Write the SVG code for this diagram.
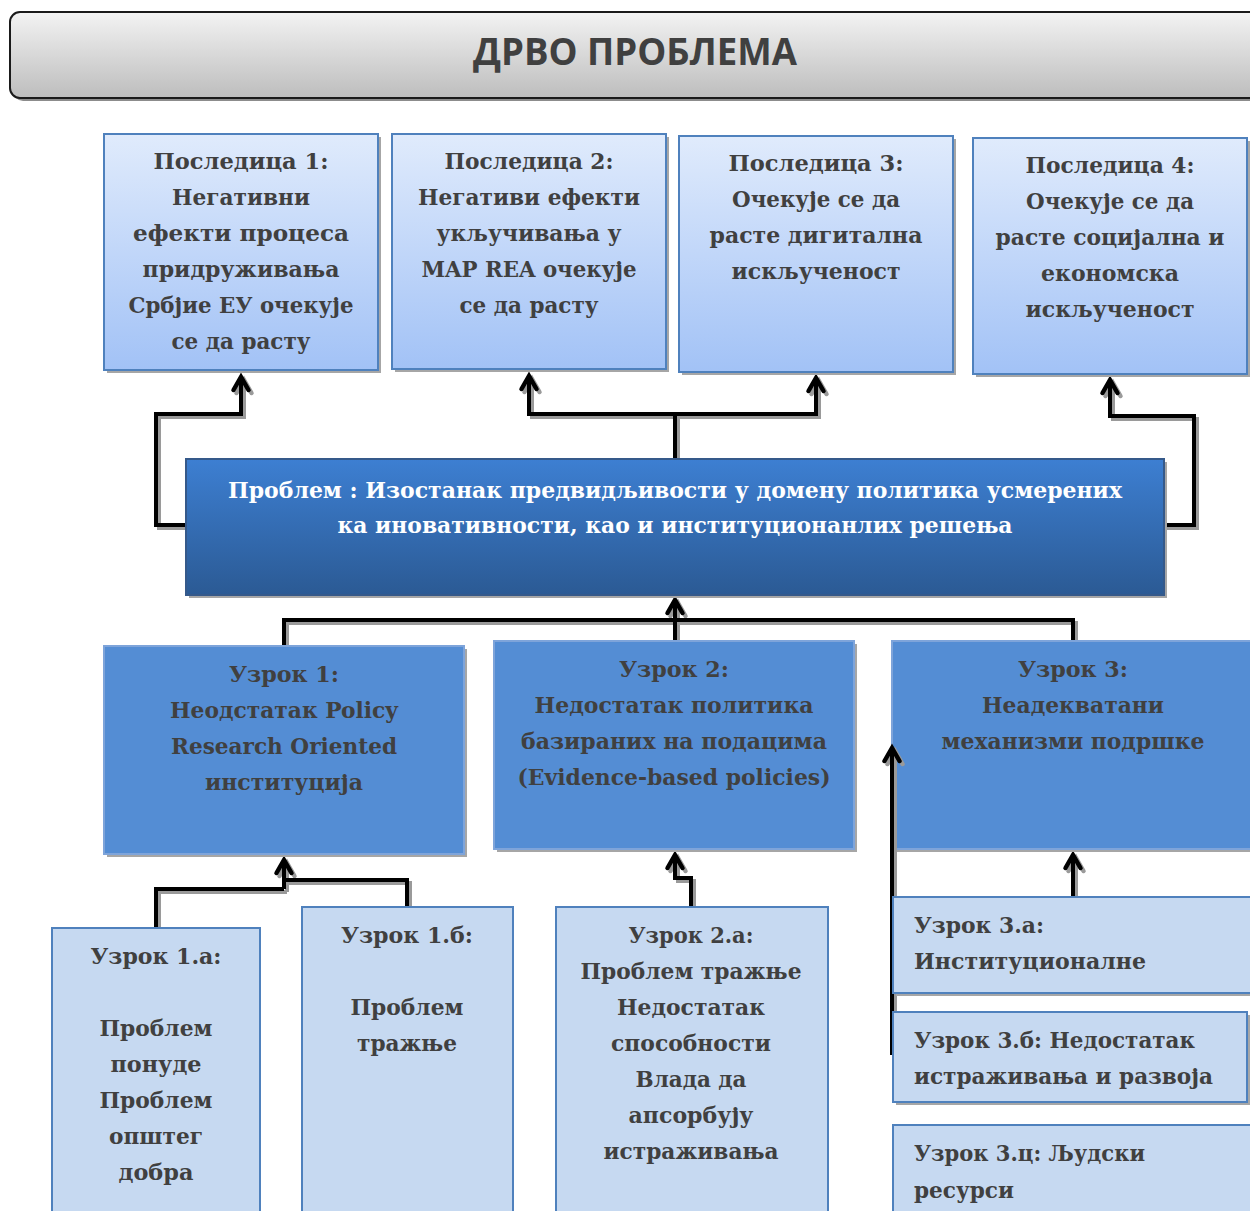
<svg xmlns="http://www.w3.org/2000/svg" width="1250" height="1211" viewBox="0 0 1250 1211">
<defs>
<linearGradient id="gTitle" x1="0" y1="0" x2="0" y2="1"><stop offset="0" stop-color="#f3f3f3"/><stop offset="1" stop-color="#bdbdbd"/></linearGradient>
<linearGradient id="gTop" x1="0" y1="0" x2="0" y2="1"><stop offset="0" stop-color="#e0ebfc"/><stop offset="1" stop-color="#a2c2f6"/></linearGradient>
<linearGradient id="gProb" x1="0" y1="0" x2="0" y2="1"><stop offset="0" stop-color="#3d7fd2"/><stop offset="1" stop-color="#2b5a94"/></linearGradient>
<marker id="arr" markerUnits="userSpaceOnUse" markerWidth="30" markerHeight="30" refX="0" refY="0" viewBox="-15 -15 30 30" orient="auto" overflow="visible"><path d="M-13,-7.5 L0,0 L-13,7.5" fill="none" stroke="#000" stroke-width="4.5" stroke-linecap="round" stroke-linejoin="miter"/></marker>
<marker id="arrS" markerUnits="userSpaceOnUse" markerWidth="30" markerHeight="30" refX="0" refY="0" viewBox="-15 -15 30 30" orient="auto" overflow="visible"><path d="M-13,-7.5 L0,0 L-13,7.5" fill="none" stroke="#9a9a9a" stroke-width="4.5" stroke-linecap="round"/></marker>
</defs>
<style>
.t{font-family:"DejaVu Serif","Liberation Serif",serif;font-weight:bold;font-size:23px;fill:#404040;text-anchor:middle}
.l{text-anchor:start}
.w{fill:#ffffff}
.top{fill:url(#gTop);stroke:#4f81bd;stroke-width:2}
.cause{fill:#548dd4;stroke:#7ea4da;stroke-width:2}
.sub{fill:#c6d9f1;stroke:#4f81bd;stroke-width:2}
.sh{fill:#a6a6a6}
.c{fill:none;stroke:#000;stroke-width:4}
.cs{fill:none;stroke:#9a9a9a;stroke-width:4}
</style>
<rect width="1250" height="1211" fill="#ffffff"/>

<g id="title">
<rect x="13" y="15" width="1260" height="86" rx="10" fill="#8c8c8c"/>
<rect x="10" y="12" width="1260" height="86" rx="10" fill="url(#gTitle)" stroke="#1a1a1a" stroke-width="2"/>
<text x="635" y="65" textLength="324" lengthAdjust="spacingAndGlyphs" style="font-family:'Open Sans','Liberation Sans',sans-serif;font-weight:bold;font-size:38px;fill:#404040;text-anchor:middle">ДРВО ПРОБЛЕМА</text>
</g>

<g id="connectors">
<g transform="translate(3,3)">
<path class="cs" d="M186,525 H156 V414 H241 V377" marker-end="url(#arrS)"/>
<path class="cs" d="M675,459 V414 H529 V376" marker-end="url(#arrS)"/>
<path class="cs" d="M675,414 H816 V378" marker-end="url(#arrS)"/>
<path class="cs" d="M1164,525 H1194 V416 H1110 V380" marker-end="url(#arrS)"/>
<path class="cs" d="M284,646 V620 H1073 V641"/>
<path class="cs" d="M675,641 V600" marker-end="url(#arrS)"/>
<path class="cs" d="M156,928 V889 H284"/>
<path class="cs" d="M407,907 V880 H284"/>
<path class="cs" d="M284,889 V860" marker-end="url(#arrS)"/>
<path class="cs" d="M691,907 V878 H675 V855" marker-end="url(#arrS)"/>
<path class="cs" d="M1073,897 V855" marker-end="url(#arrS)"/>
</g>
<path class="c" d="M186,525 H156 V414 H241 V377" marker-end="url(#arr)"/>
<path class="c" d="M675,459 V414 H529 V376" marker-end="url(#arr)"/>
<path class="c" d="M675,414 H816 V378" marker-end="url(#arr)"/>
<path class="c" d="M1164,525 H1194 V416 H1110 V380" marker-end="url(#arr)"/>
<path class="c" d="M284,646 V620 H1073 V641"/>
<path class="c" d="M675,641 V600" marker-end="url(#arr)"/>
<path class="c" d="M156,928 V889 H284"/>
<path class="c" d="M407,907 V880 H284"/>
<path class="c" d="M284,889 V860" marker-end="url(#arr)"/>
<path class="c" d="M691,907 V878 H675 V855" marker-end="url(#arr)"/>
<path class="c" d="M1073,897 V855" marker-end="url(#arr)"/>
</g>

<g id="cons1">
<rect class="sh" x="107" y="137" width="274" height="236"/>
<rect class="top" x="104" y="134" width="274" height="236"/>
<text class="t" x="241" y="169" textLength="175" lengthAdjust="spacingAndGlyphs">Последица  1:</text>
<text class="t" x="241" y="205" textLength="138" lengthAdjust="spacingAndGlyphs">Негативни</text>
<text class="t" x="241" y="241" textLength="216" lengthAdjust="spacingAndGlyphs">ефекти   процеса</text>
<text class="t" x="241" y="277" textLength="197" lengthAdjust="spacingAndGlyphs">придруживања</text>
<text class="t" x="241" y="313" textLength="225" lengthAdjust="spacingAndGlyphs">Србјие ЕУ очекује</text>
<text class="t" x="241" y="349" textLength="139" lengthAdjust="spacingAndGlyphs">се да расту</text>
</g>
<g id="cons2">
<rect class="sh" x="395" y="137" width="274" height="235"/>
<rect class="top" x="392" y="134" width="274" height="235"/>
<text class="t" x="529" y="169" textLength="169" lengthAdjust="spacingAndGlyphs">Последица 2:</text>
<text class="t" x="529" y="205" textLength="222" lengthAdjust="spacingAndGlyphs">Негативи ефекти</text>
<text class="t" x="529" y="241" textLength="185" lengthAdjust="spacingAndGlyphs">укључивања у</text>
<text class="t" x="529" y="277" textLength="215" lengthAdjust="spacingAndGlyphs">MAP REA очекује</text>
<text class="t" x="529" y="313" textLength="139" lengthAdjust="spacingAndGlyphs">се да расту</text>
</g>
<g id="cons3">
<rect class="sh" x="682" y="139" width="274" height="236"/>
<rect class="top" x="679" y="136" width="274" height="236"/>
<text class="t" x="816" y="171" textLength="175" lengthAdjust="spacingAndGlyphs">Последица  3:</text>
<text class="t" x="816" y="207" textLength="168" lengthAdjust="spacingAndGlyphs">Очекује се да</text>
<text class="t" x="816" y="243" textLength="213" lengthAdjust="spacingAndGlyphs">расте дигитална</text>
<text class="t" x="816" y="279" textLength="169" lengthAdjust="spacingAndGlyphs">искљученост</text>
</g>
<g id="cons4">
<rect class="sh" x="976" y="141" width="274" height="236"/>
<rect class="top" x="973" y="138" width="274" height="236"/>
<text class="t" x="1110" y="173" textLength="169" lengthAdjust="spacingAndGlyphs">Последица 4:</text>
<text class="t" x="1110" y="209" textLength="168" lengthAdjust="spacingAndGlyphs">Очекује се да</text>
<text class="t" x="1110" y="245" textLength="229" lengthAdjust="spacingAndGlyphs">расте социјална и</text>
<text class="t" x="1110" y="281" textLength="138" lengthAdjust="spacingAndGlyphs">економска</text>
<text class="t" x="1110" y="317" textLength="169" lengthAdjust="spacingAndGlyphs">искљученост</text>
</g>

<g id="problem">
<rect class="sh" x="189" y="462" width="978" height="136"/>
<rect x="186" y="459" width="978" height="136" fill="url(#gProb)" stroke="#35598a" stroke-width="2"/>
<text class="t w" x="675" y="498" textLength="894" lengthAdjust="spacingAndGlyphs">Проблем :  Изостанак предвидљивости у домену политика усмерених</text>
<text class="t w" x="675" y="533" textLength="675" lengthAdjust="spacingAndGlyphs">ка иновативности, као и институционанлих решења</text>
</g>

<g id="cause1">
<rect class="sh" x="107" y="649" width="360" height="208"/>
<rect class="cause" x="104" y="646" width="360" height="208"/>
<text class="t" x="284" y="682" textLength="110" lengthAdjust="spacingAndGlyphs">Узрок  1:</text>
<text class="t" x="284" y="718" textLength="228" lengthAdjust="spacingAndGlyphs">Неодстатак Policy</text>
<text class="t" x="284" y="754" textLength="226" lengthAdjust="spacingAndGlyphs">Research Oriented</text>
<text class="t" x="284" y="790" textLength="158" lengthAdjust="spacingAndGlyphs">институција</text>
</g>
<g id="cause2">
<rect class="sh" x="497" y="644" width="360" height="208"/>
<rect class="cause" x="494" y="641" width="360" height="208"/>
<text class="t" x="674" y="677" textLength="110" lengthAdjust="spacingAndGlyphs">Узрок  2:</text>
<text class="t" x="674" y="713" textLength="279" lengthAdjust="spacingAndGlyphs">Недостатак политика</text>
<text class="t" x="674" y="749" textLength="306" lengthAdjust="spacingAndGlyphs">базираних на подацима</text>
<text class="t" x="674" y="785" textLength="313" lengthAdjust="spacingAndGlyphs">(Evidence-based policies)</text>
</g>
<g id="cause3">
<rect class="sh" x="895" y="644" width="360" height="208"/>
<rect class="cause" x="892" y="641" width="362" height="208"/>
<text class="t" x="1073" y="677" textLength="110" lengthAdjust="spacingAndGlyphs">Узрок  3:</text>
<text class="t" x="1073" y="713" textLength="182" lengthAdjust="spacingAndGlyphs">Неадекватани</text>
<text class="t" x="1073" y="749" textLength="263" lengthAdjust="spacingAndGlyphs">механизми подршке</text>
</g>

<g id="connector-3b">
<path class="cs" d="M895,1058 V751" marker-end="url(#arrS)"/>
<path class="c" d="M892,1055 V748" marker-end="url(#arr)"/>
</g>

<g id="sub1a">
<rect class="sub" x="52" y="928" width="208" height="290"/>
<text class="t" x="156" y="964" textLength="131" lengthAdjust="spacingAndGlyphs">Узрок  1.а:</text>
<text class="t" x="156" y="1036" textLength="113" lengthAdjust="spacingAndGlyphs">Проблем</text>
<text class="t" x="156" y="1072" textLength="91" lengthAdjust="spacingAndGlyphs">понуде</text>
<text class="t" x="156" y="1108" textLength="113" lengthAdjust="spacingAndGlyphs">Проблем</text>
<text class="t" x="156" y="1144" textLength="94" lengthAdjust="spacingAndGlyphs">општег</text>
<text class="t" x="156" y="1180" textLength="75" lengthAdjust="spacingAndGlyphs">добра</text>
</g>
<g id="sub1b">
<rect class="sub" x="302" y="907" width="211" height="310"/>
<text class="t" x="407" y="943" textLength="132" lengthAdjust="spacingAndGlyphs">Узрок  1.б:</text>
<text class="t" x="407" y="1015" textLength="113" lengthAdjust="spacingAndGlyphs">Проблем</text>
<text class="t" x="407" y="1051" textLength="100" lengthAdjust="spacingAndGlyphs">тражње</text>
</g>
<g id="sub2a">
<rect class="sub" x="556" y="907" width="272" height="310"/>
<text class="t" x="691" y="943" textLength="125" lengthAdjust="spacingAndGlyphs">Узрок 2.а:</text>
<text class="t" x="691" y="979" textLength="221" lengthAdjust="spacingAndGlyphs">Проблем тражње</text>
<text class="t" x="691" y="1015" textLength="148" lengthAdjust="spacingAndGlyphs">Недостатак</text>
<text class="t" x="691" y="1051" textLength="160" lengthAdjust="spacingAndGlyphs">способности</text>
<text class="t" x="691" y="1087" textLength="111" lengthAdjust="spacingAndGlyphs">Влада да</text>
<text class="t" x="691" y="1123" textLength="125" lengthAdjust="spacingAndGlyphs">апсорбују</text>
<text class="t" x="691" y="1159" textLength="175" lengthAdjust="spacingAndGlyphs">истраживања</text>
</g>
<g id="sub3a">
<rect class="sh" x="896" y="900" width="360" height="96"/>
<rect class="sub" x="893" y="897" width="362" height="96"/>
<text class="t l" x="914" y="933" textLength="130" lengthAdjust="spacingAndGlyphs">Узрок  3.а:</text>
<text class="t l" x="914" y="969" textLength="232" lengthAdjust="spacingAndGlyphs">Институционалне</text>
</g>
<g id="sub3b">
<rect class="sh" x="896" y="1015" width="354" height="90"/>
<rect class="sub" x="893" y="1012" width="354" height="90"/>
<text class="t l" x="914" y="1048" textLength="281" lengthAdjust="spacingAndGlyphs">Узрок 3.б: Недостатак</text>
<text class="t l" x="914" y="1084" textLength="299" lengthAdjust="spacingAndGlyphs">истраживања и развоја</text>
</g>
<g id="sub3c">
<rect class="sub" x="893" y="1125" width="362" height="100"/>
<text class="t l" x="914" y="1161" textLength="231" lengthAdjust="spacingAndGlyphs">Узрок 3.ц: Људски</text>
<text class="t l" x="914" y="1198" textLength="100" lengthAdjust="spacingAndGlyphs">ресурси</text>
</g>
</svg>
